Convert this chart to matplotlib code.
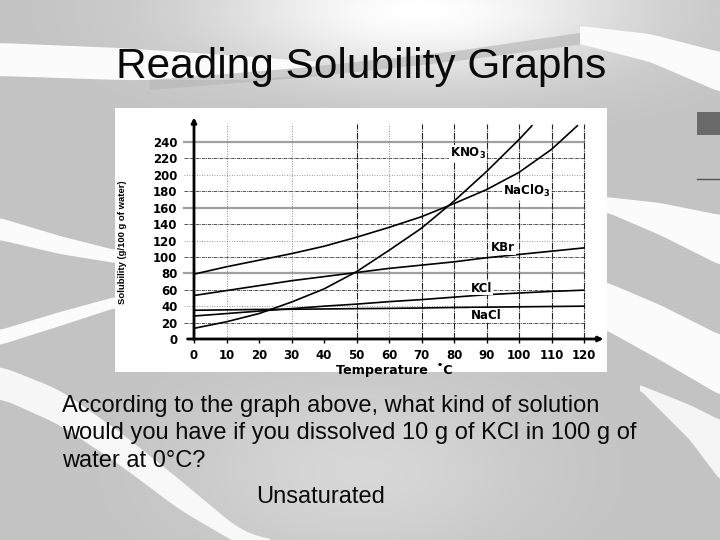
import numpy as np
import matplotlib
matplotlib.use("Agg")
import matplotlib.pyplot as plt
from matplotlib.patches import Rectangle, Polygon
from matplotlib import font_manager as fm

# ---------------- data ----------------
kno3_temp = [0, 10, 20, 30, 40, 50, 60, 70, 80, 90, 100, 104]
kno3_sol = [13, 21, 31, 45, 61, 82, 108, 135, 168, 204, 243, 260]

naclo3_temp = [0, 10, 20, 30, 40, 50, 60, 70, 80, 90, 100, 110, 118]
naclo3_sol = [79, 88, 96, 104, 113, 124, 136, 149, 165, 182, 203, 231, 260]

temps = [0, 10, 20, 30, 40, 50, 60, 70, 80, 90, 100, 110, 120]
kbr_sol = [53, 59, 65, 71, 76, 81, 86, 90, 94, 99, 103, 107, 111]
kcl_sol = [28, 31, 34, 37, 40, 42.5, 45.5, 48, 51, 54, 56, 58, 59.5]
nacl_sol = [35, 35.5, 36, 36.2, 36.6, 37, 37.3, 37.8, 38.4, 38.8, 39.2, 39.6, 40]

x_ticks = [0, 10, 20, 30, 40, 50, 60, 70, 80, 90, 100, 110, 120]
y_ticks = [0, 20, 40, 60, 80, 100, 120, 140, 160, 180, 200, 220, 240]

curve_labels = [r"KNO$_{\mathbf{3}}$", r"NaClO$_{\mathbf{3}}$", "KBr", "KCl", "NaCl"]
label_pos = [(78.8, 226), (95, 180), (91.4, 111), (85.2, 62), (85.2, 29)]

title = "Reading Solubility Graphs"
question = ["According to the graph above, what kind of solution",
            "would you have if you dissolved 10 g of KCl in 100 g of",
            "water at 0\u00b0C?"]
answer = "Unsaturated"


def has_font(name):
    try:
        fm.findfont(fm.FontProperties(family=name), fallback_to_default=False)
        return True
    except Exception:
        return False


W, H = 720, 540
fig = plt.figure(figsize=(7.2, 5.4), dpi=100)

# ---------------- slide background ----------------
bg = fig.add_axes([0, 0, 1, 1])
bg.set_xlim(0, W)
bg.set_ylim(H, 0)
bg.axis("off")
Y, X = np.mgrid[0:H, 0:W]
L = 0.765 + 0.235 * np.exp(-(((X - 420) / 210) ** 2 + ((Y - 10) / 70) ** 2))
L += 0.08 * np.exp(-(((X - 360) / 170) ** 2 + ((Y - 470) / 90) ** 2))
L = np.clip(L, 0, 1)
bg.imshow(np.dstack([L, L, L]), extent=(0, W, H, 0), aspect="auto", zorder=0)


def band(xs, top, bot, color="#fbfbfb", z=1, alpha=1.0):
    xx = np.linspace(xs[0], xs[-1], 60)
    t = np.interp(xx, xs, top)
    b = np.interp(xx, xs, bot)
    k = np.ones(7) / 7
    tp = np.convolve(np.pad(t, 3, mode="edge"), k, mode="valid")
    bp = np.convolve(np.pad(b, 3, mode="edge"), k, mode="valid")
    pts = np.vstack([np.column_stack([xx, tp]), np.column_stack([xx[::-1], bp[::-1]])])
    bg.add_patch(Polygon(pts, closed=True, facecolor=color, edgecolor="none", zorder=z, alpha=alpha))


# title band (left) and gray stripe behind the title
band([0, 120, 240, 320], [43, 48, 56, 62], [76, 80, 80, 74])
band([150, 300, 450, 600], [80, 68, 52, 30], [90, 78, 62, 42], color="#b9b9b9", alpha=0.7)
band([580, 650, 720], [26, 34, 52], [44, 62, 92])
# right bands
band([606, 660, 720], [197, 203, 215], [212, 235, 265])
band([606, 660, 720], [282, 305, 335], [330, 360, 395])
band([640, 690, 720], [385, 405, 420], [390, 440, 480], alpha=0.9)
# left bands
band([0, 60, 115], [218, 236, 250], [240, 254, 263])
band([0, 60, 115], [330, 312, 297], [345, 326, 308])
band([0, 60, 120, 180, 240, 270], [366, 390, 432, 480, 530, 540], [398, 425, 465, 510, 545, 560], alpha=0.95)
# dark block on the right edge
bg.add_patch(Rectangle((697, 112), 23, 23, facecolor="#6a6a6a", edgecolor="none", zorder=2))
bg.plot([697, 720], [179, 179], color="#555555", lw=1, zorder=2)

# chart image area
bg.add_patch(Rectangle((115, 108), 492, 264, facecolor="white", edgecolor="none", zorder=3))

# ---------------- texts ----------------
TF = ["Liberation Sans", "DejaVu Sans"]
bg.text(361, 78, title, family=TF, fontsize=30.5, ha="center", va="baseline", color="#0a0a0a", zorder=5)
for i, line in enumerate(question):
    bg.text(62, 412 + 27.5 * i, line, family=TF, fontsize=17, ha="left", va="baseline", color="#0a0a0a", zorder=5)
bg.text(321, 503, answer, family=TF, fontsize=17, ha="center", va="baseline", color="#0a0a0a", zorder=5)

# ---------------- chart ----------------
x0px, x1px = 194, 603.5
y0px, y1px = 339, 117.4
ax = fig.add_axes([x0px / W, 1 - y0px / H, (x1px - x0px) / W, (y0px - y1px) / H])
ax.set_zorder(4)
ax.patch.set_alpha(0)
ax.set_xlim(0, 126)
ax.set_ylim(0, 270)
for s in ax.spines.values():
    s.set_visible(False)

# grid lines
for yv in y_ticks[1:]:
    if yv in (80, 160, 240):
        ax.plot([-3, 120], [yv, yv], color="#a0a0a0", lw=1.6, clip_on=False, zorder=1)
    elif yv in (40, 120, 200):
        ax.plot([-3, 120], [yv, yv], color="#777777", lw=0.6, ls=(0, (1, 2)), clip_on=False, zorder=1)
    else:
        ax.plot([-3, 120], [yv, yv], color="#333333", lw=0.6, ls=(0, (4, 1, 1, 1)), clip_on=False, zorder=1)
for xv in [10, 30, 50, 60, 70, 80, 90, 100, 110, 120]:
    if xv in (10, 30, 60):
        ax.plot([xv, xv], [0, 262], color="#666666", lw=0.6, ls=(0, (1, 2)), zorder=1)
    else:
        ax.plot([xv, xv], [0, 262], color="#222222", lw=0.8, ls=(0, (6, 1, 1, 1)), zorder=1)

# axes with arrows
ax.annotate("", xy=(0, 270), xytext=(0, -1), xycoords="data",
            arrowprops=dict(arrowstyle="-|>", lw=2, color="black", mutation_scale=7, shrinkA=0, shrinkB=0),
            annotation_clip=False, zorder=3)
ax.annotate("", xy=(126, 0), xytext=(-2, 0), xycoords="data",
            arrowprops=dict(arrowstyle="-|>", lw=2, color="black", mutation_scale=7, shrinkA=0, shrinkB=0),
            annotation_clip=False, zorder=3)

# curves
lk = dict(color="black", lw=1.2, zorder=2, solid_capstyle="round")
ax.plot(kno3_temp, kno3_sol, **lk)
ax.plot(naclo3_temp, naclo3_sol, **lk)
ax.plot(temps, kbr_sol, **lk)
ax.plot(temps, kcl_sol, **lk)
ax.plot(temps, nacl_sol, **lk)

for lab, (lx, ly) in zip(curve_labels, label_pos):
    ax.text(lx, ly, lab, fontsize=8.5, fontweight="bold", ha="left", va="center", zorder=5,
            bbox=dict(facecolor="white", edgecolor="none", pad=0.5))

# ticks
ax.set_xticks(x_ticks)
ax.set_xticklabels([str(v) for v in x_ticks], fontweight="bold", fontsize=8.5)
ax.set_yticks(y_ticks)
ax.set_yticklabels([str(v) for v in y_ticks], fontweight="bold", fontsize=8.5)
ax.tick_params(axis="x", length=3, width=1, pad=4, direction="out")
ax.tick_params(axis="y", length=0, pad=12)

ax.set_xlabel("Temperature  \u02daC", fontweight="bold", fontsize=9.2)
ax.xaxis.set_label_coords(61.5 / 126, -0.11)

if has_font("Liberation Sans Narrow"):
    ylab_family, ylab_size = ["Liberation Sans Narrow", "DejaVu Sans"], 8.0
else:
    ylab_family, ylab_size = ["Liberation Sans", "DejaVu Sans"], 6.8
ax.set_ylabel("Solubility (g/100 g of water)", family=ylab_family, fontweight="bold", fontsize=ylab_size)
ax.yaxis.set_label_coords(-0.164, 0.438)

fig.savefig("out.png", dpi=100)
